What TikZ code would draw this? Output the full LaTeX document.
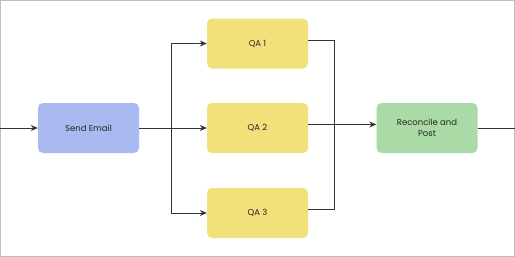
\documentclass[tikz,border=0pt]{standalone}
\usepackage{fontspec}
\setmainfont{Poppins}
\usetikzlibrary{arrows.meta}
\definecolor{mailblue}{RGB}{169,186,240}
\definecolor{qayellow}{RGB}{242,224,122}
\definecolor{postgreen}{RGB}{170,218,165}

\begin{document}
\begin{tikzpicture}[x=1pt,y=-1pt,
  box/.style={rounded corners=5pt, minimum width=101pt, minimum height=50pt, inner sep=0pt,
    align=center, font=\fontsize{8.5}{11}\selectfont, text=black!85},
  link/.style={draw=black!80, line width=0.8pt},
  arr/.style={link, -{Stealth[length=7pt,width=6pt]}}]
 \useasboundingbox (0,0) rectangle (515,257);
 \draw[black!25, line width=1pt] (0.5,0.5) rectangle (514.5,256.5);

 \node[box, fill=mailblue] (mail) at (88.5,128) {Send Email};
 \node[box, fill=qayellow] (qa1) at (257.5,43.5) {QA 1};
 \node[box, fill=qayellow] (qa2) at (257.5,128) {QA 2};
 \node[box, fill=qayellow] (qa3) at (257.5,213) {QA 3};
 \node[box, fill=postgreen] (post) at (427,128) {Reconcile and\\Post};

 \coordinate (in) at (0,128);
 \coordinate (out) at (515,128);
 \coordinate (fork) at (171,128);
 \coordinate (join) at (334,124.5);

 \draw[arr] (in) -- (mail);
 \draw[link] (mail) -- (fork);
 \draw[arr] (fork) |- (qa1.west);
 \draw[arr] (fork) -- (qa2);
 \draw[arr] (fork) |- (qa3.west);

 \draw[link] ([yshift=3.5pt]qa1.east) -| (join);
 \draw[link] ([yshift=4pt]qa3.east) -| (join);
 \draw[link] ([yshift=3.5pt]qa2.east) -- (join);
 \draw[arr] (join) -- (join -| post.west);
 \draw[link] (post) -- (out);
\end{tikzpicture}
\end{document}
